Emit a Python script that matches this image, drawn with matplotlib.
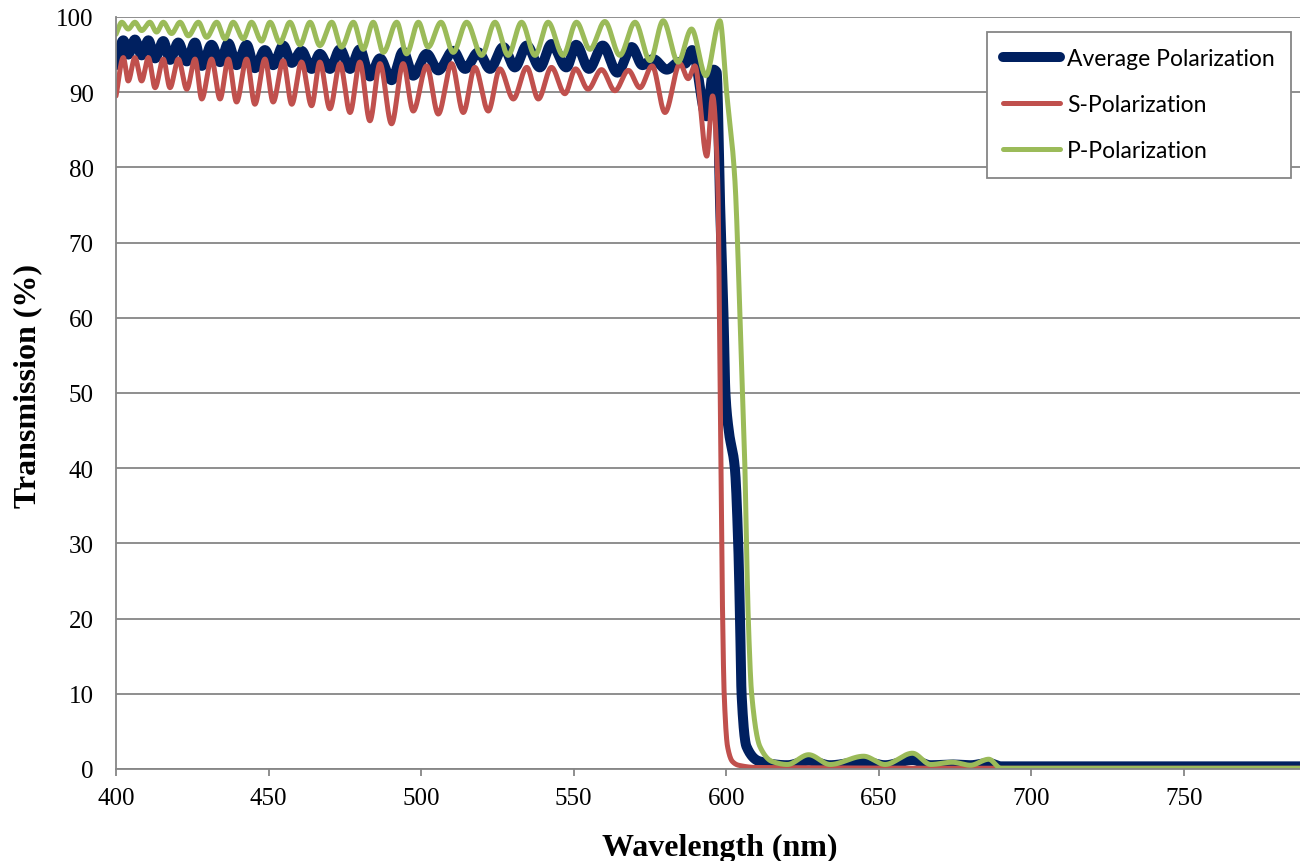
import numpy as np
import matplotlib
matplotlib.use("Agg")
import matplotlib.pyplot as plt

# Transmission curves (turning points + edge points)
s_wl = [400.0, 402.4, 404.0, 406.2, 408.4, 410.6, 412.8, 415.5, 417.7, 420.4,
        423.2, 425.9, 428.1, 431.3, 434.1, 436.8, 439.5, 442.8, 445.5, 448.8,
        451.5, 454.8, 457.6, 460.8, 464.1, 466.8, 470.1, 473.4, 476.7, 479.9,
        483.2, 486.5, 490.3, 494.1, 497.4, 501.8, 505.6, 510.0, 513.8, 517.6,
        522.0, 525.8, 530.2, 534.6, 538.4, 542.7, 547.1, 550.6, 554.7, 559.1,
        563.5, 567.9, 571.7, 575.7, 579.9, 584.8, 587.5, 589.7, 593.6, 595.5,
        597.2, 598.0, 598.8, 599.3, 600.4, 602.0, 604.0, 610.0, 700.0, 790.0]
s_val = [89.5, 94.6, 91.5, 94.6, 91.5, 94.6, 90.6, 94.4, 90.6, 94.4,
         90.4, 94.4, 89.1, 94.4, 89.1, 94.4, 88.7, 94.4, 88.4, 94.4,
         88.7, 94.2, 88.4, 94.0, 88.2, 94.0, 87.8, 93.8, 87.3, 94.0,
         86.2, 93.8, 85.8, 93.8, 87.5, 93.5, 87.1, 93.8, 87.3, 93.3,
         87.5, 93.1, 89.1, 93.3, 89.1, 93.3, 89.8, 93.1, 90.4, 93.0,
         90.2, 92.9, 90.6, 93.5, 87.3, 93.8, 91.8, 93.5, 81.5, 89.5,
         78.0, 50.0, 20.0, 10.0, 3.0, 1.0, 0.5, 0.2, 0.1, 0.1]

p_wl = [400.0, 401.9, 404.0, 406.2, 408.4, 411.1, 413.3, 415.5, 418.2, 421.0,
        423.7, 427.0, 429.7, 433.0, 435.7, 438.4, 441.7, 444.4, 447.7, 450.5,
        453.7, 457.0, 460.3, 463.6, 466.8, 470.7, 473.9, 477.8, 481.0, 484.3,
        487.6, 492.0, 495.2, 499.1, 502.3, 506.5, 510.5, 514.9, 519.8, 524.2,
        528.5, 532.9, 537.3, 541.6, 546.5, 550.9, 555.3, 560.2, 565.1, 570.1,
        575.0, 579.3, 584.2, 588.6, 593.3, 597.9, 600.1, 602.8, 604.5, 605.3,
        606.1, 606.6, 607.2, 608.3, 611.0, 615.0, 620.0, 627.0, 634.0, 645.0,
        652.0, 661.0, 667.0, 674.0, 680.0, 686.0, 690.0, 790.0]
p_val = [97.7, 99.3, 98.4, 99.3, 98.2, 99.3, 98.0, 99.3, 97.8, 99.3,
         97.5, 99.3, 97.3, 99.3, 97.1, 99.3, 97.1, 99.3, 96.8, 99.3,
         96.6, 99.3, 96.3, 99.3, 96.2, 99.3, 96.0, 99.3, 95.7, 99.3,
         95.3, 99.3, 95.1, 99.3, 96.0, 99.3, 95.3, 99.3, 94.9, 99.3,
         94.9, 99.3, 94.9, 99.3, 94.9, 99.3, 95.7, 99.4, 94.9, 99.3,
         94.2, 99.5, 94.0, 98.4, 92.2, 99.5, 90.0, 78.4, 60.0, 50.0,
         40.0, 30.0, 20.0, 10.0, 3.0, 1.0, 0.6, 1.9, 0.6, 1.7,
         0.6, 2.1, 0.6, 0.9, 0.5, 1.3, 0.1, 0.1]

avg_wl = [400.0, 402.4, 404.0, 406.2, 408.4, 410.6, 412.8, 415.5, 417.7, 420.4,
          423.2, 425.9, 428.1, 431.3, 434.1, 436.8, 439.5, 442.8, 445.5, 448.8,
          451.5, 454.8, 457.6, 460.8, 464.1, 466.8, 470.1, 473.4, 476.7, 479.9,
          483.2, 486.5, 490.3, 494.1, 497.4, 501.8, 505.6, 510.5, 514.4, 518.7,
          522.6, 526.9, 530.7, 534.6, 538.9, 542.7, 547.6, 550.8, 555.0, 559.5,
          564.3, 569.0, 572.5, 576.0, 580.5, 584.5, 586.5, 588.8, 593.5, 595.8,
          596.8, 598.0, 599.1, 599.7, 600.8, 602.8, 603.9, 604.5, 605.0, 606.6,
          611.0, 620.0, 627.0, 634.0, 645.0, 652.0, 661.0, 667.0, 674.0, 680.0,
          686.0, 690.0, 790.0]
avg_val = [93.6, 96.9, 95.0, 97.0, 94.9, 96.9, 94.5, 96.8, 94.3, 96.6,
           94.1, 96.6, 93.5, 96.3, 94.0, 96.5, 93.6, 96.3, 93.2, 95.6,
           93.6, 96.2, 93.9, 95.5, 93.1, 95.1, 93.1, 95.7, 93.1, 95.7,
           92.1, 94.5, 91.6, 95.4, 92.2, 95.1, 92.9, 95.5, 93.1, 95.3,
           93.1, 96.0, 93.3, 96.2, 93.3, 96.4, 93.3, 96.3, 93.1, 96.2,
           92.6, 96.0, 93.6, 94.4, 93.0, 94.0, 93.8, 95.6, 86.8, 93.0,
           92.7, 74.5, 60.0, 50.0, 45.0, 40.0, 30.0, 20.0, 10.0, 3.0,
           1.0, 0.5, 1.1, 0.5, 1.0, 0.5, 1.2, 0.5, 0.6, 0.5,
           0.8, 0.35, 0.35]

x_ticks = [400, 450, 500, 550, 600, 650, 700, 750]
y_ticks = [0, 10, 20, 30, 40, 50, 60, 70, 80, 90, 100]


# smooth (monotone cubic) line through the read points, like Excel's smoothed line
def smooth(x, y, n=6000):
    x = np.asarray(x, float)
    y = np.asarray(y, float)
    h = np.diff(x)
    d = np.diff(y) / h
    m = np.zeros_like(y)
    for k in range(1, len(x) - 1):
        if d[k - 1] * d[k] > 0:
            w1 = 2 * h[k] + h[k - 1]
            w2 = h[k] + 2 * h[k - 1]
            m[k] = (w1 + w2) / (w1 / d[k - 1] + w2 / d[k])
    m[0] = d[0]
    m[-1] = d[-1]
    xs = np.linspace(x[0], x[-1], n)
    i = np.clip(np.searchsorted(x, xs) - 1, 0, len(h) - 1)
    t = (xs - x[i]) / h[i]
    ys = ((2 * t**3 - 3 * t**2 + 1) * y[i] + (t**3 - 2 * t**2 + t) * h[i] * m[i]
          + (-2 * t**3 + 3 * t**2) * y[i + 1] + (t**3 - t**2) * h[i] * m[i + 1])
    return xs, ys


grey = "#868686"
serif = ["Liberation Serif", "DejaVu Serif"]

fig = plt.figure(figsize=(13, 8.62), dpi=100)
ax = fig.add_axes([116 / 1300, 92 / 862, 1184 / 1300, 752 / 862])

xa, ya = smooth(avg_wl, avg_val)
xs_, ys_ = smooth(s_wl, s_val)
xp, yp = smooth(p_wl, p_val)
ax.plot(xa, ya, color="#002060", lw=7.2, label="Average Polarization", solid_capstyle="round")
ax.plot(xs_, ys_, color="#C0504D", lw=3.6, label="S-Polarization", solid_capstyle="round")
ax.plot(xp, yp, color="#9BBB59", lw=3.6, label="P-Polarization", solid_capstyle="round")

ax.set_xlim(400, 788)
ax.set_ylim(0, 100)
ax.set_xticks(x_ticks)
ax.set_yticks(y_ticks)
ax.grid(axis="y", color=grey, lw=1.3)
ax.set_axisbelow(True)
for side in ["top", "right"]:
    ax.spines[side].set_visible(False)
for side in ["left", "bottom"]:
    ax.spines[side].set_color(grey)
    ax.spines[side].set_linewidth(1.3)
ax.tick_params(axis="x", length=5, width=1.3, color=grey, pad=8)
ax.tick_params(axis="y", length=0, pad=16)
for lab in ax.get_xticklabels() + ax.get_yticklabels():
    lab.set_fontfamily(serif)
    lab.set_fontsize(18)

ax.set_xlabel("Wavelength (nm)", fontfamily=serif, fontsize=23, fontweight="bold")
ax.set_ylabel("Transmission (%)", fontfamily=serif, fontsize=23, fontweight="bold")
ax.xaxis.set_label_coords(0.51, -0.085)
ax.yaxis.set_label_coords(-0.062, 0.51)

leg = ax.legend(loc="upper right", bbox_to_anchor=(0.9924, 0.980), borderaxespad=0,
                prop={"family": "Lato", "size": 16.5}, fancybox=False, framealpha=1,
                edgecolor=grey, handlelength=2.5, handletextpad=0.3,
                labelspacing=1.1, borderpad=0.7)
leg.get_frame().set_linewidth(1.3)

fig.savefig("out.png", dpi=100)
